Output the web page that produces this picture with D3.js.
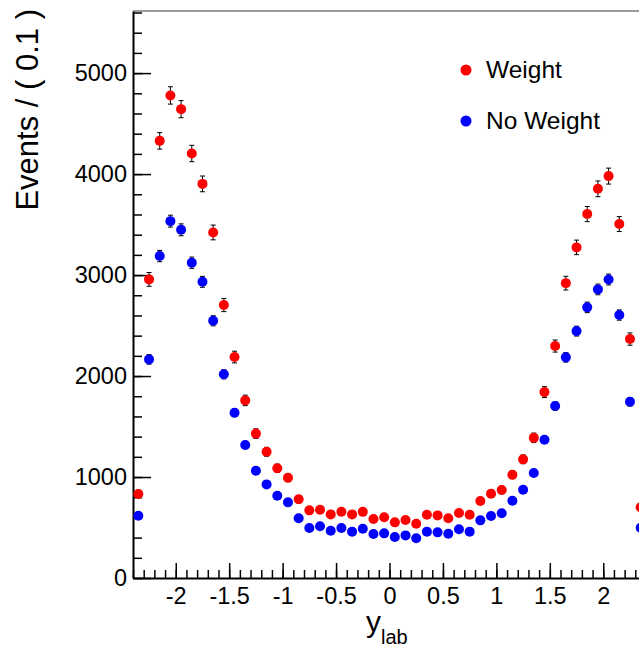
<!DOCTYPE html>
<html>
<head>
<meta charset="utf-8">
<script src="https://cdn.jsdelivr.net/npm/d3@7"></script>
<style>
  body { margin: 0; background: #fff; }
  svg { display: block; font-family: "Liberation Sans", Arial, Helvetica, sans-serif; }
</style>
</head>
<body>
<div id="chart"></div>
<script>
// bin centres (bin width 0.1)
const yLab = [
  -2.35, -2.25, -2.15, -2.05, -1.95, -1.85, -1.75, -1.65, -1.55, -1.45, -1.35, -1.25,
  -1.15, -1.05, -0.95, -0.85, -0.75, -0.65, -0.55, -0.45, -0.35, -0.25, -0.15, -0.05,
  0.05, 0.15, 0.25, 0.35, 0.45, 0.55, 0.65, 0.75, 0.85, 0.95, 1.05, 1.15,
  1.25, 1.35, 1.45, 1.55, 1.65, 1.75, 1.85, 1.95, 2.05, 2.15, 2.25, 2.35
];

const weight = [
  832, 2957, 4329, 4779, 4643, 4204, 3903, 3422, 2703, 2188, 1759, 1430,
  1250, 1086, 993, 779, 670, 676, 630, 656, 630, 655, 584, 601,
  551, 574, 538, 627, 620, 591, 643, 627, 762, 835, 871, 1023,
  1175, 1388, 1841, 2297, 2920, 3274, 3604, 3854, 3980, 3505, 2366, 700
];
const weightErr = [
  36, 68, 82, 86, 85, 81, 78, 73, 65, 58, 52, 47,
  44, 41, 39, 35, 32, 33, 31, 32, 31, 32, 30, 31,
  29, 30, 29, 31, 31, 30, 32, 31, 35, 36, 37, 40,
  43, 47, 54, 60, 68, 72, 75, 78, 79, 74, 61, 33
];

const noWeight = [
  617, 2165, 3188, 3534, 3448, 3122, 2933, 2547, 2017, 1637, 1317, 1062,
  927, 815, 749, 591, 495, 512, 468, 495, 459, 488, 436, 442,
  406, 422, 393, 459, 452, 439, 482, 459, 571, 614, 641, 765,
  874, 1040, 1369, 1703, 2185, 2445, 2680, 2858, 2956, 2604, 1745, 498
];
const noWeightErr = [
  25, 47, 56, 59, 59, 56, 54, 50, 45, 40, 36, 33,
  30, 29, 27, 24, 22, 23, 22, 22, 21, 22, 21, 21,
  20, 21, 20, 21, 21, 21, 22, 21, 24, 25, 25, 28,
  30, 32, 37, 41, 47, 49, 52, 53, 54, 51, 42, 22
];

const seriesNames = ["Weight", "No Weight"];
const seriesColors = ["#ff0000", "#0000ff"];
const xTicks = [-2, -1.5, -1, -0.5, 0, 0.5, 1, 1.5, 2];
const yTicks = [0, 1000, 2000, 3000, 4000, 5000];

const width = 639;
const height = 648;

const svg = d3.select("#chart")
  .append("svg")
  .attr("width", width)
  .attr("height", height);

const x = d3.scaleLinear()
  .domain([-2.4, 2.4])
  .range([133, 646]);

const y = d3.scaleLinear()
  .domain([0, 5615])
  .range([578, 11]);

// top frame line
svg.append("line")
  .attr("x1", x(-2.4)).attr("x2", x(2.4))
  .attr("y1", y(5615)).attr("y2", y(5615))
  .attr("stroke", "#7a7a7a")
  .attr("stroke-width", 1.6);

// minor ticks
svg.append("g")
  .attr("transform", `translate(${x(-2.4)},0)`)
  .call(d3.axisLeft(y).tickValues(d3.range(0, 5601, 200)).tickSize(-9).tickFormat(""))
  .call(g => g.select(".domain").remove())
  .call(g => g.selectAll("line").attr("stroke-width", 1.5));

svg.append("g")
  .attr("transform", `translate(0,${y(0)})`)
  .call(d3.axisBottom(x).tickValues(d3.range(-24, 25).map(i => i / 10)).tickSize(-8).tickFormat(""))
  .call(g => g.select(".domain").remove())
  .call(g => g.selectAll("line").attr("stroke-width", 1.5));

// major axes
svg.append("g")
  .attr("transform", `translate(${x(-2.4)},0)`)
  .call(d3.axisLeft(y).tickValues(yTicks).tickSize(-18).tickSizeOuter(0).tickPadding(6).tickFormat(d => String(d)))
  .call(g => g.selectAll("line").attr("stroke-width", 1.5))
  .call(g => g.select(".domain").attr("stroke-width", 2))
  .call(g => g.selectAll("text").attr("font-size", "23.5px").attr("fill", "#000"))
  .attr("font-family", null);

svg.append("g")
  .attr("transform", `translate(0,${y(0)})`)
  .call(d3.axisBottom(x).tickValues(xTicks).tickSize(-15).tickSizeOuter(0).tickPadding(9).tickFormat(d => String(d)))
  .call(g => g.selectAll("line").attr("stroke-width", 1.5))
  .call(g => g.select(".domain").attr("stroke-width", 2))
  .call(g => g.selectAll("text").attr("font-size", "23.5px").attr("fill", "#000"))
  .attr("font-family", null);

// axis titles
svg.append("text")
  .attr("transform", `translate(38,${y(5615) - 2}) rotate(-90)`)
  .attr("text-anchor", "end")
  .attr("font-size", "31px")
  .text("Events / ( 0.1 )");

const xt = svg.append("text")
  .attr("x", 366)
  .attr("y", 632)
  .attr("font-size", "30px");
xt.append("tspan").text("y");
xt.append("tspan").attr("font-size", "20px").attr("dy", 12).text("lab");

// data series
const series = [
  { name: seriesNames[0], color: seriesColors[0], values: weight, errors: weightErr },
  { name: seriesNames[1], color: seriesColors[1], values: noWeight, errors: noWeightErr }
];

series.forEach(s => {
  const pts = yLab.map((c, i) => ({ c, v: s.values[i], e: s.errors[i] }));
  const g = svg.append("g");

  g.selectAll("line.err")
    .data(pts)
    .join("line")
    .attr("class", "err")
    .attr("x1", d => x(d.c)).attr("x2", d => x(d.c))
    .attr("y1", d => y(d.v - d.e)).attr("y2", d => y(d.v + d.e))
    .attr("stroke", "#000").attr("stroke-width", 1);

  g.selectAll("path.cap")
    .data(pts)
    .join("path")
    .attr("class", "cap")
    .attr("d", d => `M${x(d.c) - 2.5},${y(d.v - d.e)}h5M${x(d.c) - 2.5},${y(d.v + d.e)}h5`)
    .attr("stroke", "#000").attr("stroke-width", 1);

  g.selectAll("circle")
    .data(pts)
    .join("circle")
    .attr("cx", d => x(d.c))
    .attr("cy", d => y(d.v))
    .attr("r", 5)
    .attr("fill", s.color);
});

// legend
const legend = svg.append("g");
series.forEach((s, i) => {
  legend.append("circle")
    .attr("cx", 466)
    .attr("cy", 70 + i * 51)
    .attr("r", 5.5)
    .attr("fill", s.color);
  legend.append("text")
    .attr("x", 486)
    .attr("y", 77.5 + i * 51)
    .attr("font-size", "24.5px")
    .text(s.name);
});
</script>
</body>
</html>
